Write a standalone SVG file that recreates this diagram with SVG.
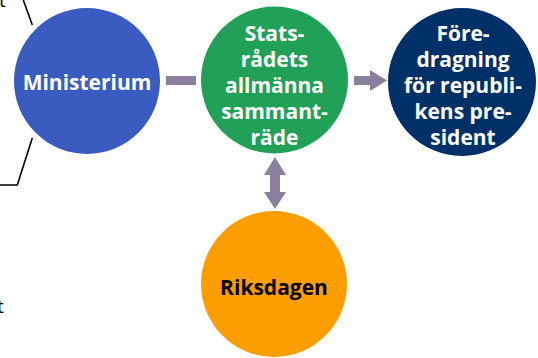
<svg xmlns="http://www.w3.org/2000/svg" width="538" height="358" viewBox="0 0 538 358">
<style>
.lbl{font-family:"Open Sans","Liberation Sans",sans-serif;font-weight:bold;font-size:21px;text-anchor:middle}
.w{fill:#ffffff}
.k{fill:#000000}
.arr{fill:#8a7f9c}
.br{fill:none;stroke:#000;stroke-width:1.6}
.frag{font-family:"Open Sans","Liberation Sans",sans-serif;font-size:19px;fill:#000}
</style>
<rect width="538" height="358" fill="#ffffff"/>
<text class="frag" x="-1" y="7">t</text>
<text class="frag" x="-3" y="313">t</text>
<g id="bracket">
<path class="br" d="M23.3,0 L32.3,25"/>
<path class="br" d="M32.3,138 L17.3,185 L0,185"/>
</g>
<g id="connectors">
<rect class="arr" x="166" y="76" width="30" height="9"/>
<path class="arr" d="M354,76 H370 V70 L387,80.5 L370,91 V85 H354 Z"/>
<path class="arr" d="M275,157 L286,175 H280 V192 H286 L275,209 L264,192 H270 V175 H264 Z"/>
</g>
<g id="ministerium">
<circle cx="87" cy="81" r="73" fill="#3a5bbf"/>
<text class="lbl w" x="87" y="90">Ministerium</text>
</g>
<g id="statsradet">
<circle cx="274.5" cy="80" r="73.5" fill="#21a057"/>
<text class="lbl w" x="274.5" y="41">Stats-</text>
<text class="lbl w" x="274.5" y="67">rådets</text>
<text class="lbl w" x="274.5" y="93">allmänna</text>
<text class="lbl w" x="274.5" y="119">sammant-</text>
<text class="lbl w" x="274.5" y="145">räde</text>
</g>
<g id="foredragning">
<circle cx="462" cy="82" r="74" fill="#003068"/>
<text class="lbl w" x="463" y="41">Före-</text>
<text class="lbl w" x="463" y="67">dragning</text>
<text class="lbl w" x="463" y="93">för republi-</text>
<text class="lbl w" x="463" y="119">kens pre-</text>
<text class="lbl w" x="463" y="145">sident</text>
</g>
<g id="riksdagen">
<circle cx="274" cy="284" r="73" fill="#ff9e00"/>
<text class="lbl k" x="274" y="295">Riksdagen</text>
</g>
</svg>
